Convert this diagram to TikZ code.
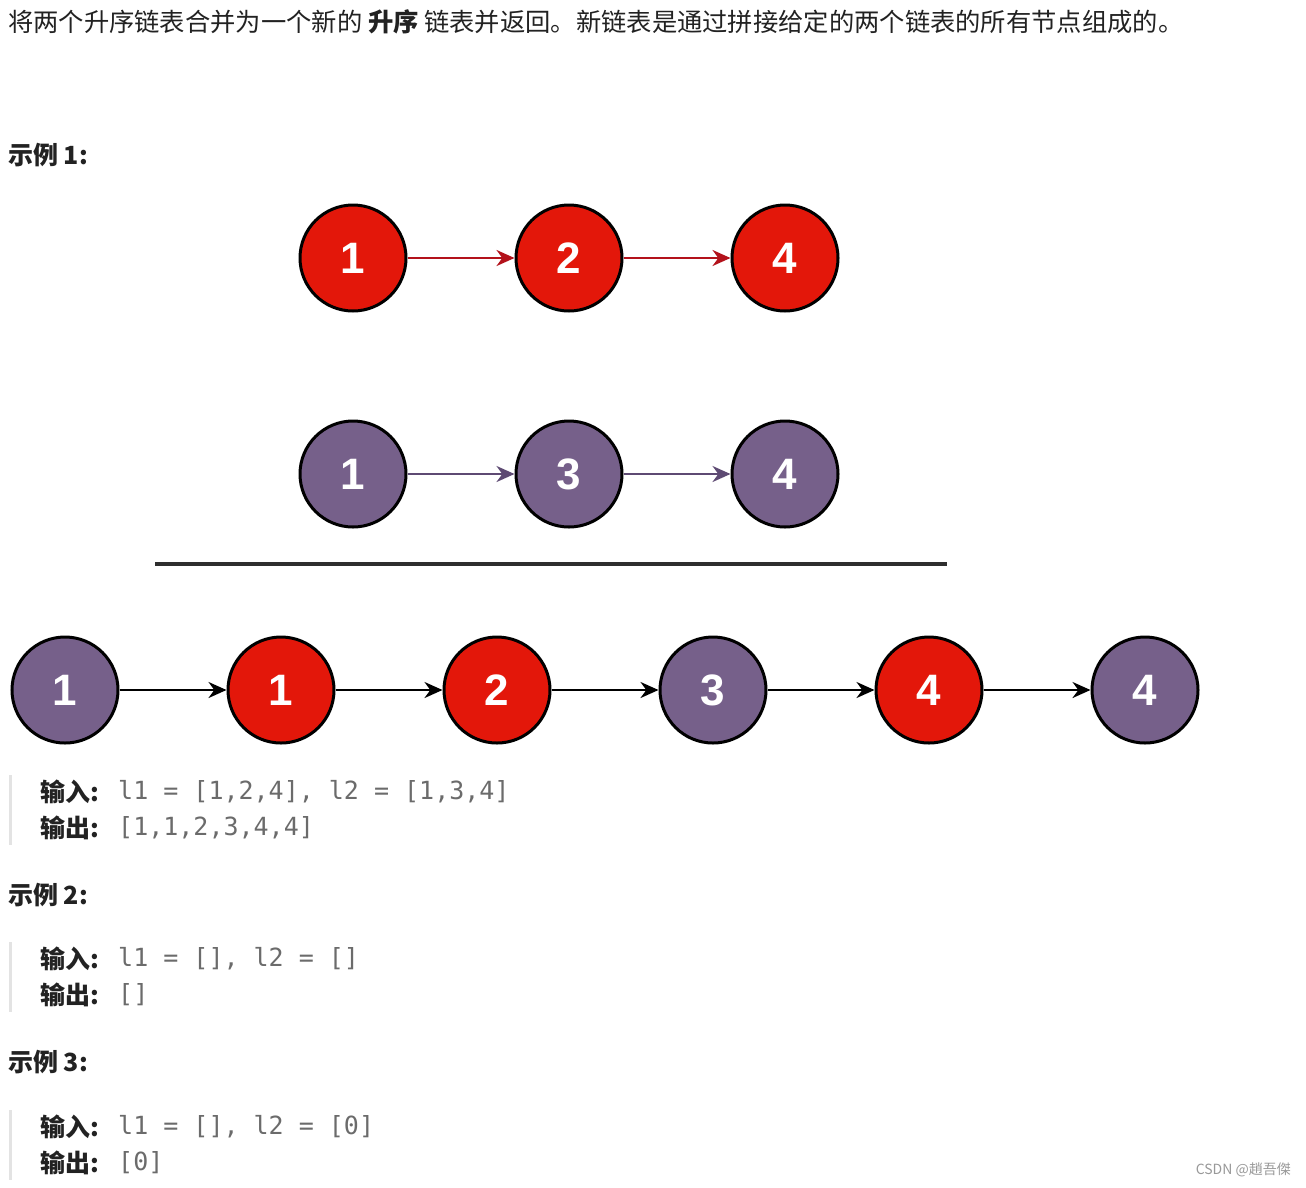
\documentclass[tikz,border=0pt]{standalone}
\usepackage{fontspec}
\setmainfont{Noto Sans CJK SC}
\newfontfamily\digitfont{Liberation Sans}
\newfontfamily\codefont{DejaVu Sans Mono}
\usetikzlibrary{arrows.meta,positioning}
\definecolor{nodered}{HTML}{E3170A}
\definecolor{nodepurple}{HTML}{76608A}
\definecolor{linkred}{HTML}{B3121B}
\definecolor{linkpurple}{HTML}{5E4A73}
\definecolor{codegray}{HTML}{6B6B6B}
\definecolor{bargray}{HTML}{E3E3E3}
\definecolor{rulegray}{HTML}{2E2E2E}
\definecolor{inkgray}{HTML}{222222}

\begin{document}
\begin{tikzpicture}[x=1pt,y=-1pt, node distance=107pt,
   rn/.style={circle,draw=black,line width=3pt,fill=nodered,minimum size=106pt,inner sep=0pt,text=white,font=\digitfont\bfseries\fontsize{44}{44}\selectfont},
   pn/.style={rn,fill=nodepurple},
   txt/.style={anchor=west,inner sep=0pt,text=inkgray,font=\fontsize{25.3}{30}\selectfont},
   hd/.style={txt,font=\fontsize{25}{30}\selectfont\bfseries},
   cd/.style={anchor=west,inner sep=0pt,text=codegray,font=\codefont\fontsize{25}{30}\selectfont},
   fl/.style={-{Stealth[length=18pt,width=16pt]},line width=2.6pt}]
  \useasboundingbox[fill=white] (0,0) rectangle (1306,1187);
  % heading
  \node[txt] (title) at (8,22) {将两个升序链表合并为一个新的 {\bfseries 升序} 链表并返回。新链表是通过拼接给定的两个链表的所有节点组成的。};
  \node[hd] (ex1) at (8,155) {示例 1:};
  % l1 and l2
  \node[rn] (l1a) at (353,258) {1};
  \node[rn,right=of l1a] (l1b) {2};
  \node[rn,right=of l1b] (l1c) {4};
  \node[pn] (l2a) at (353,474) {1};
  \node[pn,right=of l2a] (l2b) {3};
  \node[pn,right=of l2b] (l2c) {4};
  \draw[fl,linkred] (l1a)--(l1b); \draw[fl,linkred] (l1b)--(l1c);
  \draw[fl,linkpurple] (l2a)--(l2b); \draw[fl,linkpurple] (l2b)--(l2c);
  \coordinate (ruleL) at (155,564); \coordinate (ruleR) at (947,564);
  \draw[rulegray,line width=3.5pt] (ruleL)--(ruleR);
  % merged list
  \node[pn] (m1) at (65,690) {1};
  \node[rn,right=of m1] (m2) {1};
  \node[rn,right=of m2] (m3) {2};
  \node[pn,right=of m3] (m4) {3};
  \node[rn,right=of m4] (m5) {4};
  \node[pn,right=of m5] (m6) {4};
  \draw[fl] (m1)--(m2); \draw[fl] (m2)--(m3); \draw[fl] (m3)--(m4);
  \draw[fl] (m4)--(m5); \draw[fl] (m5)--(m6);
  % examples
  \fill[bargray] (9,775) rectangle (12,845);
  \node[hd] (in1) at (40,792) {输入:};
  \node[cd] (in1c) at (118,792) {l1 = [1,2,4], l2 = [1,3,4]};
  \node[hd] (out1) at (40,828) {输出:};
  \node[cd] (out1c) at (118,828) {[1,1,2,3,4,4]};
  \node[hd] (ex2) at (8,895) {示例 2:};
  \fill[bargray] (9,942) rectangle (12,1012);
  \node[hd] (in2) at (40,959) {输入:};
  \node[cd] (in2c) at (118,959) {l1 = [], l2 = []};
  \node[hd] (out2) at (40,995) {输出:};
  \node[cd] (out2c) at (118,995) {[]};
  \node[hd] (ex3) at (8,1062) {示例 3:};
  \fill[bargray] (9,1110) rectangle (12,1180);
  \node[hd] (in3) at (40,1127) {输入:};
  \node[cd] (in3c) at (118,1127) {l1 = [], l2 = [0]};
  \node[hd] (out3) at (40,1163) {输出:};
  \node[cd] (out3c) at (118,1163) {[0]};
  \node[anchor=east,inner sep=0pt,text=black!40,font=\fontsize{14}{16}\selectfont] (mark) at (1291,1170) {CSDN @趙吾傑};
\end{tikzpicture}
\end{document}
